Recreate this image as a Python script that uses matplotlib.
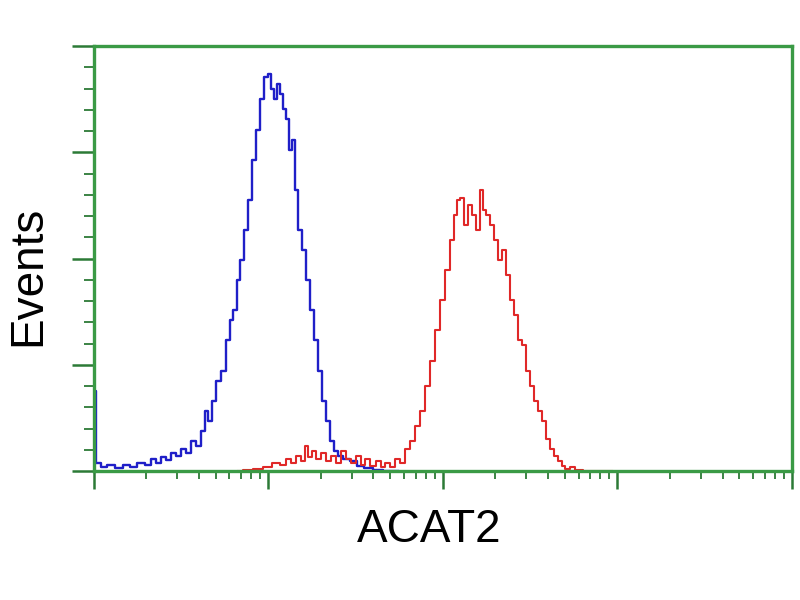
import numpy as np
import matplotlib
matplotlib.use("Agg")
import matplotlib.pyplot as plt
from matplotlib.ticker import MultipleLocator, LogLocator, NullFormatter

# ---- data (x in log10 fluorescence units, y in events) ----
blue_log_x = [0.0, 0.032, 0.057, 0.097, 0.143, 0.189, 0.229, 0.269, 0.314, 0.343,
              0.371, 0.4, 0.429, 0.457, 0.486, 0.514, 0.543, 0.571, 0.6, 0.629,
              0.646, 0.669, 0.686, 0.714, 0.743, 0.771, 0.789, 0.811, 0.829, 0.851,
              0.874, 0.897, 0.92, 0.943, 0.966, 0.989, 1.006, 1.023, 1.04, 1.057,
              1.074, 1.091, 1.109, 1.126, 1.143, 1.16, 1.183, 1.206, 1.229, 1.251,
              1.274, 1.297, 1.32, 1.343, 1.366, 1.389, 1.411, 1.446, 1.486, 1.526,
              1.571, 1.629, 1.686, 1.743]
blue_y = [75.6, 7.6, 3.8, 5.7, 2.8, 5.7, 3.8, 7.6, 5.7, 11.3,
          7.6, 13.2, 10.4, 17.0, 14.2, 20.8, 17.0, 28.4, 23.6, 37.8,
          56.7, 47.3, 66.2, 85.1, 94.6, 122.9, 141.8, 151.3, 179.7, 198.6,
          227.0, 255.3, 293.1, 321.5, 349.9, 370.7, 373.5, 359.3, 349.9, 364.1,
          354.6, 340.4, 331.0, 302.6, 312.0, 264.8, 227.0, 208.0, 179.7, 151.3,
          122.9, 94.6, 66.2, 47.3, 28.4, 18.9, 14.2, 11.3, 9.5, 4.7,
          2.8, 0.9, 0.0, 0.0]

red_log_x = [0.829, 0.886, 0.943, 1.0, 1.046, 1.086, 1.114, 1.143, 1.171, 1.2,
             1.217, 1.24, 1.263, 1.286, 1.314, 1.343, 1.371, 1.4, 1.429, 1.457,
             1.486, 1.514, 1.543, 1.571, 1.6, 1.629, 1.657, 1.686, 1.714, 1.743,
             1.771, 1.8, 1.829, 1.857, 1.886, 1.914, 1.943, 1.971, 2.0, 2.029,
             2.057, 2.074, 2.091, 2.109, 2.131, 2.154, 2.177, 2.2, 2.223, 2.24,
             2.257, 2.28, 2.303, 2.326, 2.349, 2.371, 2.394, 2.417, 2.44, 2.463,
             2.486, 2.509, 2.531, 2.554, 2.577, 2.6, 2.623, 2.646, 2.669, 2.691,
             2.714, 2.743, 2.771, 2.829, 2.886, 2.971]
red_y = [0.0, 0.9, 1.9, 3.8, 7.6, 5.7, 11.3, 7.6, 14.2, 9.5,
         23.6, 13.2, 18.9, 11.3, 17.0, 9.5, 14.2, 7.6, 18.9, 11.3,
         7.6, 14.2, 5.7, 11.3, 4.7, 9.5, 3.8, 7.6, 3.8, 11.3,
         7.6, 20.8, 28.4, 42.6, 56.7, 80.4, 104.0, 132.4, 160.8, 189.1,
         217.5, 241.1, 255.3, 257.2, 231.7, 250.6, 241.1, 227.0, 264.8, 245.8,
         241.1, 231.7, 217.5, 198.6, 208.1, 184.4, 160.8, 146.6, 122.9, 118.2,
         94.6, 80.4, 66.2, 56.7, 47.3, 30.3, 20.8, 14.2, 9.5, 4.7,
         1.9, 3.8, 0.9, 0.0, 0.0, 0.0]

x_label = "ACAT2"
y_label = "Events"

frame_green = "#3a9a45"
tick_green = "#2c7a36"

fig = plt.figure(figsize=(8, 6), dpi=100)
ax = fig.add_axes([0.117, 0.215, 0.873, 0.708])

ax.plot(10 ** np.array(blue_log_x), blue_y, color="#1f1fc8", lw=1.7,
        drawstyle="steps-mid")
ax.plot(10 ** np.array(red_log_x), red_y, color="#e02828", lw=1.5,
        drawstyle="steps-mid")

ax.set_xscale("log")
ax.set_xlim(1, 1e4)
ax.set_ylim(0, 400)

ax.xaxis.set_major_locator(LogLocator(base=10, numticks=10))
ax.xaxis.set_minor_locator(LogLocator(base=10, subs=np.arange(2, 10), numticks=10))
ax.xaxis.set_major_formatter(NullFormatter())
ax.xaxis.set_minor_formatter(NullFormatter())
ax.yaxis.set_major_locator(MultipleLocator(100))
ax.yaxis.set_minor_locator(MultipleLocator(20))
ax.yaxis.set_major_formatter(NullFormatter())

ax.tick_params(axis="x", which="major", direction="out", length=13, width=1.8,
               color=tick_green)
ax.tick_params(axis="x", which="minor", direction="out", length=6, width=1.3,
               color=tick_green)
ax.tick_params(axis="y", which="major", direction="out", length=16, width=1.8,
               color=tick_green)
ax.tick_params(axis="y", which="minor", direction="out", length=7, width=1.3,
               color=tick_green)

for s in ax.spines.values():
    s.set_color(frame_green)
    s.set_linewidth(2.4)

fig.text(0.537, 0.117, x_label, ha="center", va="center", fontsize=33,
         family="Liberation Sans")
fig.text(0.035, 0.54, y_label, ha="center", va="center", fontsize=33,
         rotation=90, family="Liberation Sans")

fig.savefig("out.png", dpi=100)
